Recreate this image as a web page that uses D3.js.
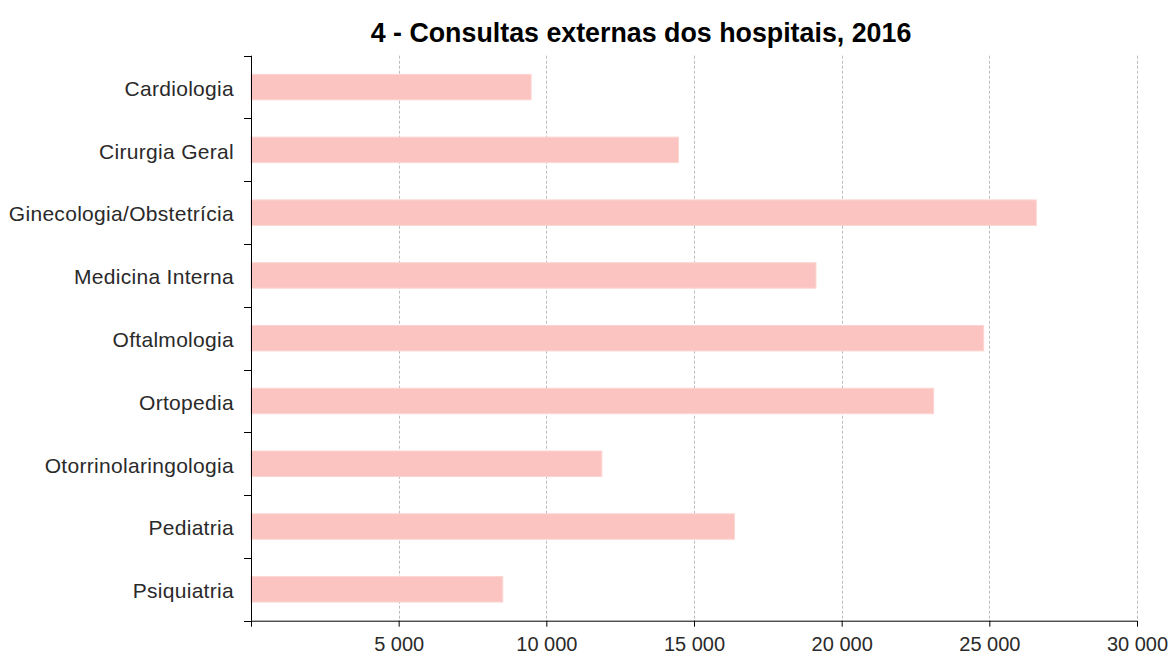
<!DOCTYPE html>
<html>
<head>
<meta charset="utf-8">
<script src="https://cdn.jsdelivr.net/npm/d3@7"></script>
<style>
  html, body { margin: 0; padding: 0; background: #fff; }
  svg { display: block; }
  text { font-family: "Liberation Sans", Arial, sans-serif; }
</style>
</head>
<body>
<svg id="chart" width="1171" height="653"></svg>
<script>
const title = "4 - Consultas externas dos hospitais, 2016";
const categories = ["Cardiologia", "Cirurgia Geral", "Ginecologia/Obstetrícia", "Medicina Interna",
  "Oftalmologia", "Ortopedia", "Otorrinolaringologia", "Pediatria", "Psiquiatria"];
const values = [9485, 14475, 26590, 19130, 24810, 23115, 11880, 16370, 8525];
const xTicks = [0, 5000, 10000, 15000, 20000, 25000, 30000];

(function () {
const svg = d3.select("#chart");
const pLeft = 251, pRight = 1137, pTop = 55.7, pBottom = 620.7;

const x = d3.scaleLinear().domain([0, 30000]).range([pLeft, pRight]);
const y = d3.scaleBand().domain(categories).range([pTop, pBottom]).padding(0);
const barH = y.bandwidth() * 0.406;

const loc = d3.formatLocale({ decimal: ",", thousands: "\u00a0", grouping: [3], currency: ["", ""] });
const fmt = loc.format(",");

// gridlines
svg.append("g").selectAll("line").data(xTicks.filter(d => d > 0)).join("line")
  .attr("x1", d => Math.round(x(d)) + 0.5).attr("x2", d => Math.round(x(d)) + 0.5)
  .attr("y1", pTop).attr("y2", pBottom)
  .attr("stroke", "#bdbdbd").attr("stroke-width", 1).attr("stroke-dasharray", "3,2");

// bars
svg.append("g").selectAll("rect").data(categories).join("rect")
  .attr("x", x(0))
  .attr("y", d => y(d) + (y.bandwidth() - barH) / 2)
  .attr("width", (d, i) => x(values[i]) - x(0))
  .attr("height", barH)
  .attr("fill", "#fbc4c0")
  .attr("stroke", "#fcd6d3").attr("stroke-width", 1);

// x axis
const gx = svg.append("g").attr("transform", `translate(0,${pBottom})`)
  .call(d3.axisBottom(x).tickValues(xTicks).tickSize(6).tickPadding(10)
    .tickFormat(d => d === 0 ? "" : fmt(d)));
gx.select(".domain").attr("stroke", "#000").attr("d", `M${pLeft},0.5H${pRight}`);
gx.selectAll(".tick line").attr("stroke", "#000");
gx.selectAll("text").attr("font-size", 20).attr("fill", "#2a2a2a")
  .attr("font-family", "'Liberation Sans', Arial, sans-serif");

// y axis (labels at centres, ticks at boundaries)
const gy = svg.append("g").attr("transform", `translate(${pLeft},0)`)
  .call(d3.axisLeft(y).tickSize(0).tickPadding(17));
gy.select(".domain").attr("stroke", "#000").attr("d", `M0.5,${pTop}V${pBottom}`);
gy.selectAll("text").attr("font-size", 21).attr("fill", "#2a2a2a")
  .attr("letter-spacing", 0.3).attr("dy", "0.42em")
  .attr("font-family", "'Liberation Sans', Arial, sans-serif");

const bounds = categories.map(c => y(c)).concat([pBottom]);
gy.append("g").selectAll("line").data(bounds).join("line")
  .attr("x1", -7).attr("x2", 0.5)
  .attr("y1", d => Math.round(d) + 0.5).attr("y2", d => Math.round(d) + 0.5)
  .attr("stroke", "#000");

// title
svg.append("text")
  .attr("x", 641).attr("y", 41.5)
  .attr("text-anchor", "middle")
  .attr("font-size", 26.8).attr("font-weight", "bold").attr("fill", "#000")
  .text(title);
})();
</script>
</body>
</html>
